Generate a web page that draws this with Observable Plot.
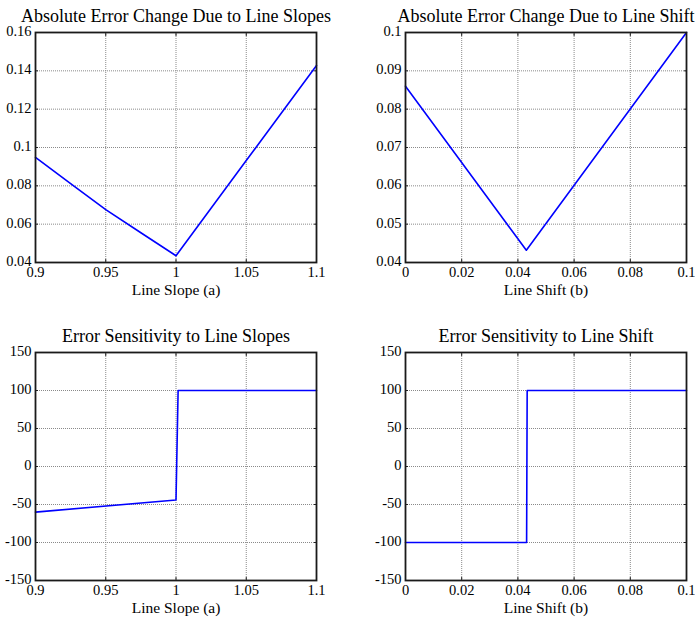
<!DOCTYPE html>
<html><head><meta charset="utf-8">
<script src="https://cdn.jsdelivr.net/npm/d3@7"></script>
<script src="https://cdn.jsdelivr.net/npm/@observablehq/plot@0.6"></script>
<style>
body{margin:0;background:#fff;}
#root{position:relative;width:695px;height:620px;background:#fff;}
#root svg{position:absolute;overflow:visible;}
</style></head><body><div id="root"></div>
<script>
// ---- data ----
const slopeA = [0.9, 0.925, 0.95, 0.975, 1.0, 1.05, 1.1];
const slopeErr = [0.0948, 0.0812, 0.0676, 0.0555, 0.0435, 0.0932, 0.1428];
const shiftB = [0, 0.043, 0.1];
const shiftErr = [0.086, 0.0432, 0.1];
const slopeSensA = [0.9, 1.0, 1.0015, 1.1];
const slopeSens = [-60, -44, 100, 100];
const shiftSensB = [0, 0.0431, 0.0433, 0.1];
const shiftSens = [-100, -100, 100, 100];
const slopeTicks = [0.9, 0.95, 1, 1.05, 1.1];
const shiftTicks = [0, 0.02, 0.04, 0.06, 0.08, 0.1];
const errTicksA = [0.04, 0.06, 0.08, 0.1, 0.12, 0.14, 0.16];
const errTicksB = [0.04, 0.05, 0.06, 0.07, 0.08, 0.09, 0.1];
const sensTicks = [-150, -100, -50, 0, 50, 100, 150];
const titles = ["Absolute Error Change Due to Line Slopes", "Absolute Error Change Due to Line Shift",
                "Error Sensitivity to Line Slopes", "Error Sensitivity to Line Shift"];
const xLabels = ["Line Slope (a)", "Line Shift (b)"];

const FONT = "Liberation Serif, serif";
const root = document.getElementById("root");

function panel(o) {
  const data = o.xs.map((x, i) => ({x, y: o.ys[i]}));
  const fmt = d => String(d);
  const blank = () => "";
  const grid = {stroke: "#8a8a8a", strokeOpacity: 1, strokeDasharray: "1,1", strokeWidth: 1};
  const tick = {stroke: "#222", strokeOpacity: 1, strokeWidth: 1};
  const svg = Plot.plot({
    width: o.width, height: o.height,
    marginLeft: o.ml, marginRight: o.mr, marginTop: o.mt, marginBottom: o.mb,
    style: {fontFamily: FONT, fontSize: "14.5px", color: "#000", background: "transparent", overflow: "visible"},
    x: {domain: o.xdom},
    y: {domain: o.ydom},
    marks: [
      Plot.gridX(o.xticks, grid),
      Plot.gridY(o.yticks, grid),
      Plot.axisX(o.xticks, {anchor: "bottom", tickSize: 0, tickPadding: 4, tickFormat: fmt, label: null, fontSize: 14.5}),
      Plot.axisY(o.yticks, {anchor: "left", tickSize: 0, tickPadding: 4, tickFormat: fmt, label: null, fontSize: 14.5, dy: -1}),
      Plot.axisX(o.xticks, {anchor: "bottom", tickSize: -3, tickFormat: blank, label: null, ...tick}),
      Plot.axisX(o.xticks, {anchor: "top", tickSize: -3, tickFormat: blank, label: null, ...tick}),
      Plot.axisY(o.yticks, {anchor: "left", tickSize: -3, tickFormat: blank, label: null, ...tick}),
      Plot.axisY(o.yticks, {anchor: "right", tickSize: -3, tickFormat: blank, label: null, ...tick}),
      Plot.line(data, {x: "x", y: "y", stroke: "#0000ff", strokeWidth: 1.6}),
      Plot.frame({stroke: "#1a1a1a", strokeWidth: 1.8}),
      Plot.text([o.title], {text: d => d, frameAnchor: "top", dy: -11, lineAnchor: "bottom", fontSize: 18, fill: "#000"}),
      Plot.text([o.xlabel], {text: d => d, frameAnchor: "bottom", dy: 28, lineAnchor: "middle", fontSize: 15.5, fill: "#000"})
    ]
  });
  svg.style.left = o.left + "px";
  svg.style.top = o.top + "px";
  root.appendChild(svg);
}

panel({left: 0, top: 0, width: 347, height: 300, ml: 35, mr: 31, mt: 32, mb: 38,
  xs: slopeA, ys: slopeErr, xdom: [0.9, 1.1], ydom: [0.04, 0.16], xticks: slopeTicks, yticks: errTicksA,
  title: titles[0], xlabel: xLabels[0]});
panel({left: 347, top: 0, width: 348, height: 300, ml: 58, mr: 9, mt: 32, mb: 38,
  xs: shiftB, ys: shiftErr, xdom: [0, 0.1], ydom: [0.04, 0.1], xticks: shiftTicks, yticks: errTicksB,
  title: titles[1], xlabel: xLabels[1]});
panel({left: 0, top: 300, width: 347, height: 320, ml: 35, mr: 31, mt: 52, mb: 40,
  xs: slopeSensA, ys: slopeSens, xdom: [0.9, 1.1], ydom: [-150, 150], xticks: slopeTicks, yticks: sensTicks,
  title: titles[2], xlabel: xLabels[0]});
panel({left: 347, top: 300, width: 348, height: 320, ml: 58, mr: 9, mt: 52, mb: 40,
  xs: shiftSensB, ys: shiftSens, xdom: [0, 0.1], ydom: [-150, 150], xticks: shiftTicks, yticks: sensTicks,
  title: titles[3], xlabel: xLabels[1]});
</script></body></html>
